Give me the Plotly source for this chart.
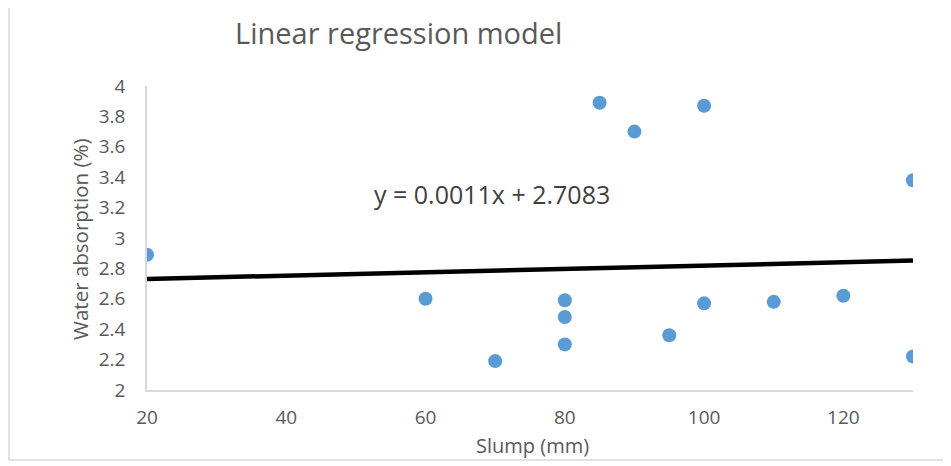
import plotly.graph_objects as go

# Data
slump = [20, 60, 70, 80, 80, 80, 85, 90, 95, 100, 100, 110, 120, 130, 130]
water_absorption = [2.89, 2.60, 2.19, 2.59, 2.48, 2.30, 3.89, 3.70, 2.36, 3.87, 2.57, 2.58, 2.62, 3.38, 2.22]

# Trendline (from the chart's equation)
trend_slope = 0.0011
trend_intercept = 2.7083
trend_x = [20, 130]
trend_y = [trend_slope * v + trend_intercept for v in trend_x]

x_ticks = [20, 40, 60, 80, 100, 120]
y_ticks = [2, 2.2, 2.4, 2.6, 2.8, 3, 3.2, 3.4, 3.6, 3.8, 4]
y_tick_text = ["2", "2.2", "2.4", "2.6", "2.8", "3", "3.2", "3.4", "3.6", "3.8", "4"]

FONT = "Open Sans"
TXT = "#595959"

fig = go.Figure()
fig.add_trace(go.Scatter(
    x=trend_x, y=trend_y, mode="lines",
    line=dict(color="#000000", width=4.5),
    hoverinfo="skip", showlegend=False,
))
fig.add_trace(go.Scatter(
    x=slump, y=water_absorption, mode="markers",
    marker=dict(color="#5B9BD5", size=14),
    showlegend=False,
))

OFF = 8  # page body margin
W, H = 951 - OFF, 466 - OFF
# plot area in screen pixels: x 147..913, y 86..390
L = 147 - OFF
T = 86 - OFF
R = W - (913 - OFF)
B = H - (390 - OFF)
pw, ph = W - L - R, H - T - B

def px(xs):
    return (xs - OFF - L) / pw

def py(ys):
    return (H - B - (ys - OFF)) / ph

fig.update_layout(
    width=W, height=H,
    margin=dict(l=L, r=R, t=T, b=B),
    paper_bgcolor="white", plot_bgcolor="white",
    font=dict(family=FONT, color=TXT),
    xaxis=dict(
        range=[20, 130], tickvals=x_ticks, ticktext=[str(v) for v in x_ticks],
        showgrid=False, zeroline=False, showline=True, linecolor="#d9d9d9", linewidth=1.5,
        ticks="outside", ticklen=9, tickcolor="rgba(0,0,0,0)",
        tickfont=dict(size=19, color=TXT, family=FONT),
    ),
    yaxis=dict(
        range=[2, 4], tickvals=y_ticks, ticktext=y_tick_text,
        showgrid=False, zeroline=False, showline=True, linecolor="#d9d9d9", linewidth=1.5,
        ticks="outside", ticklen=16, tickcolor="rgba(0,0,0,0)",
        tickfont=dict(size=19, color=TXT, family=FONT),
    ),
    annotations=[
        dict(text="Linear regression model", xref="paper", yref="paper",
             x=px(398), y=py(33), xanchor="center", yanchor="middle", showarrow=False,
             font=dict(size=29, color=TXT, family=FONT)),
        dict(text="y = 0.0011x + 2.7083", xref="paper", yref="paper",
             x=px(492), y=py(194), xanchor="center", yanchor="middle", showarrow=False,
             font=dict(size=25, color="#404040", family=FONT)),
        dict(text="Slump (mm)", xref="paper", yref="paper",
             x=px(532), y=py(445), xanchor="center", yanchor="middle", showarrow=False,
             font=dict(size=20, color=TXT, family=FONT)),
        dict(text="Water absorption (%)", xref="paper", yref="paper",
             x=px(80), y=py(239), xanchor="center", yanchor="middle", showarrow=False,
             textangle=-90, font=dict(size=20.5, color=TXT, family=FONT)),
    ],
    shapes=[
        dict(type="rect", xref="paper", yref="paper",
             x0=px(9), x1=px(955), y0=py(460), y1=py(6),
             line=dict(color="#d9d9d9", width=1.5), fillcolor="rgba(0,0,0,0)", layer="below"),
    ],
)

fig.write_html("out.html")
